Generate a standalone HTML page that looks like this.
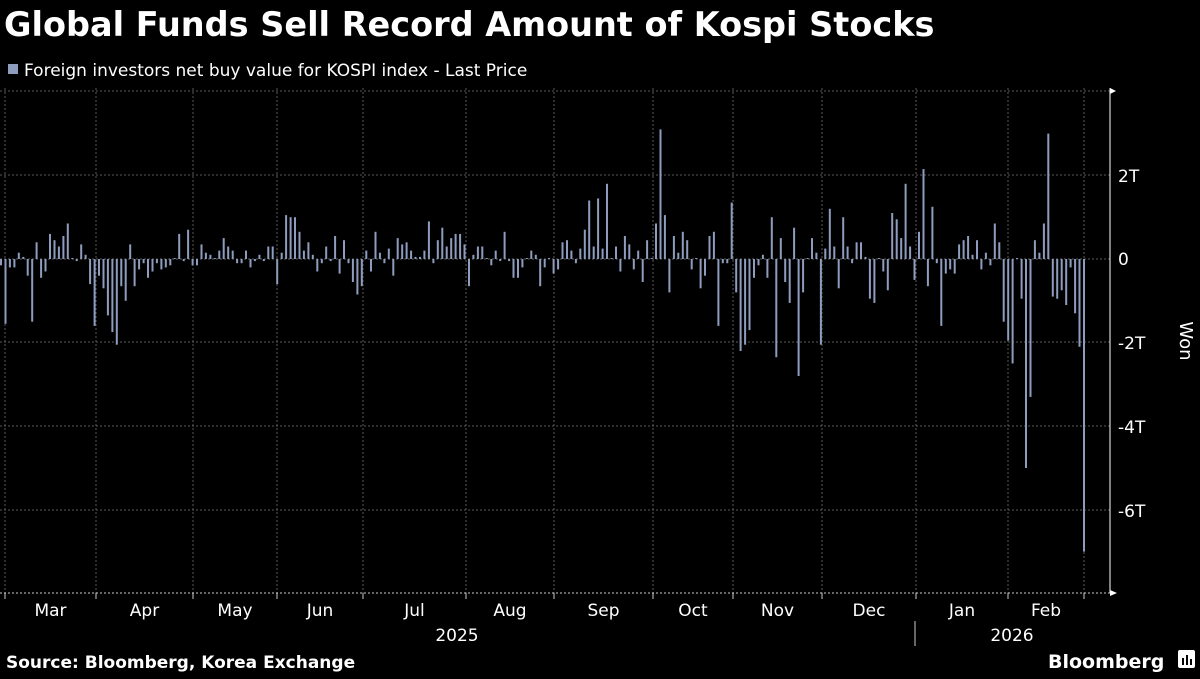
<!DOCTYPE html>
<html><head><meta charset="utf-8"><style>
body{margin:0;background:#000;width:1200px;height:675px;overflow:hidden;font-family:"DejaVu Sans","Liberation Sans",sans-serif;color:#fff}
</style></head><body>
<svg width="1200" height="675" xmlns="http://www.w3.org/2000/svg" id="s">
<text x="4" y="36" font-family="DejaVu Sans" font-weight="bold" font-size="33.5" fill="#fff">Global Funds Sell Record Amount of Kospi Stocks</text>
<rect x="8" y="64" width="10" height="10" fill="#8e9dbe"/>
<text x="24" y="76" font-family="DejaVu Sans" font-size="17" fill="#fff">Foreign investors net buy value for KOSPI index - Last Price</text>
<g stroke="#5a5a5a" stroke-width="1" stroke-dasharray="2,2" id="grid"></g>
<g fill="#8e9dbe" id="bars"></g>
<line x1="1110" y1="88" x2="1110" y2="593" stroke="#fff" stroke-width="1"/>
<polygon points="1110,88 1116,91 1110,94" fill="#fff"/>
<line x1="0" y1="593" x2="1112" y2="593" stroke="#ccc" stroke-dasharray="2,2"/>
<polygon points="1110,590 1117,593 1110,596" fill="#fff"/>
<g font-family="DejaVu Sans" font-size="17" fill="#fff">
<text x="1118" y="182">2T</text>
<text x="1118" y="265">0</text>
<text x="1118" y="349">-2T</text>
<text x="1118" y="433">-4T</text>
<text x="1118" y="517">-6T</text>
<text transform="translate(1180,341) rotate(90)" text-anchor="middle" font-size="18">Won</text>
</g>
<g font-family="DejaVu Sans" font-size="17" fill="#fff" text-anchor="middle" id="months"></g>
<g font-family="DejaVu Sans" font-size="17" fill="#fff" text-anchor="middle">
<text x="457" y="641">2025</text>
<text x="1012" y="641">2026</text>
</g>
<line x1="915" y1="621" x2="915" y2="646" stroke="#ccc"/>
<text x="6" y="668" font-family="DejaVu Sans" font-weight="bold" font-size="17" fill="#fff">Source: Bloomberg, Korea Exchange</text>
<text x="1048" y="668" font-family="DejaVu Sans" font-weight="bold" font-size="19" fill="#fff">Bloomberg</text>
<rect x="1178" y="650" width="17" height="18" rx="2" fill="#fff"/>
<g fill="#000"><rect x="1182" y="658" width="2" height="7"/><rect x="1186" y="655" width="2" height="10"/><rect x="1190" y="659" width="2" height="6"/></g>
</svg>
<script>
var NS="http://www.w3.org/2000/svg";
function el(p,t,a,txt){var e=document.createElementNS(NS,t);for(var k in a)e.setAttribute(k,a[k]);if(txt)e.textContent=txt;p.appendChild(e);}
var g=document.getElementById('grid');
[91,175,259,342,426,510].forEach(function(y){el(g,'line',{x1:0,y1:y,x2:1110,y2:y});});
var vx=[5,96,193,277,363,466,554,653,733,822,916,1008,1084];
vx.forEach(function(x){el(g,'line',{x1:x,y1:88,x2:x,y2:593});el(document.getElementById('s'),'line',{x1:x,y1:593,x2:x,y2:599,stroke:'#ccc'});});
var mn=["Mar","Apr","May","Jun","Jul","Aug","Sep","Oct","Nov","Dec","Jan","Feb"];
var m=document.getElementById('months');
for(var i=0;i<12;i++)el(m,'text',{x:(vx[i]+vx[i+1])/2,y:616},mn[i]);
var s1=[-0.15,-1.55,-0.2,-0.2,0.15,0.05,-0.4,-1.5,0.4,-0.45,-0.3,0.6,0.45,0.3,0.55,0.85,0.02,-0.05,0.35,0.1,-0.6,-1.6,-0.4,-0.7,-1.35,-1.75,-2.05,-0.65,-1.0,0.35,-0.65,-0.25,-0.1,-0.45,-0.3,-0.1,-0.25,-0.2,-0.15,0,0.6,-0.05,0.7,-0.15,-0.15,0.35,0.15,0.1,0,0.2,0.5,0.3,0.2,-0.1,-0.1,0.2,-0.2,-0.05,0.1,-0.05,0.3,0.3,-0.6,0.15,1.05,1.0,1.0,0.65,0.2,0.4,0.1,-0.3,-0.1,0.3,-0.05,0.55,-0.35,0.45,-0.1,-0.55,-0.85,-0.65,0.2];
var s2=[-0.3,0.65,0.15,-0.1,0.25,-0.4,0.5,0.35,0.4,0.2,0.05,0.05,0.2,0.9,-0.1,0.45,0.75,0.3,0.5,0.6,0.6,0.35,-0.65,0.1,0.3,0.3,0,-0.15,0.2,-0.05,0.65,-0.05,-0.45,-0.45,-0.2,0,0.2,0.1,-0.65,-0.2,0,-0.35,-0.25,0.4,0.45,0.2,-0.1,0.25,0.7,1.4,0.3,1.45,0.25,1.8,0,0.3,-0.3,0.55,0.35,-0.25,0.2,-0.55,0.45,0,0.85,3.1,1.05,-0.8,0.55,0.15,0.65,0.45,-0.25,0,-0.7,-0.4,0.55,0.65,-1.6,-0.1,-0.1];
var s3=[1.35,-0.8,-2.2,-2.05,-1.7,-0.45,-0.15,0.1,-0.45,1.0,-2.35,0.5,-0.55,-1.05,0.75,-2.8,-0.8,0,0.5,0.15,-2.05,0.25,1.2,0.3,-0.7,1.0,0.3,-0.1,0.4,0.4,0.05,-0.95,-1.05,0,-0.3,-0.75,1.1,0.95,0.5,1.8,0.3,-0.5,0.65,2.15,-0.65,1.25,-0.1,-1.6,-0.35,-0.25,-0.35,0.35,0.45,0.55,0.1,0.45,-0.25,0.15,-0.15,0.85,0.4,-1.5,-1.95,-2.5,0,-0.95,-5.0,-3.3,0.45,0.15,0.85,3.0,-0.9,-0.95,-0.75,-1.1,-0.2,-1.3,-2.1,-7.0];
var b=document.getElementById('bars');
function seg(a,x0,x1){var st=(x1-x0)/(a.length-1);a.forEach(function(v,i){var x=x0+i*st,h=Math.abs(v)*41.8;if(h<1)h=1;el(b,'rect',{x:(x-1).toFixed(1),y:(v>=0?259-h:259).toFixed(1),width:2,height:h.toFixed(1)});});}
seg(s1,1,366.3);seg(s2,371,727.3);seg(s3,731.7,1084);
</script>
</body></html>
